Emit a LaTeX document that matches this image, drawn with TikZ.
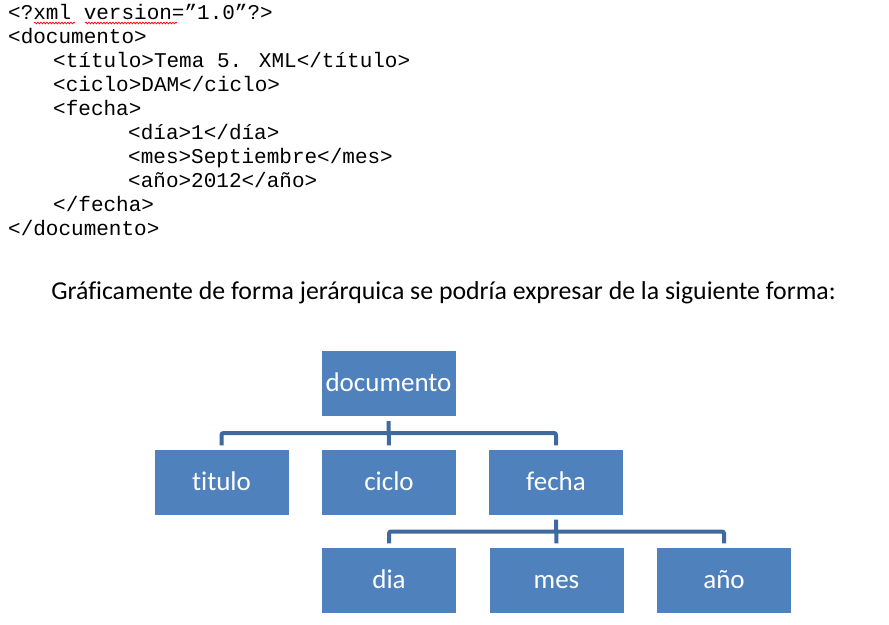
\documentclass[tikz,border=0pt]{standalone}
\usepackage{fontspec}
\setmainfont[Ligatures=NoCommon]{Carlito}
\newfontfamily\xmlfont{Liberation Mono}
\usetikzlibrary{decorations.pathmorphing}
\definecolor{boxblue}{RGB}{79,129,189}
\definecolor{lineblue}{RGB}{62,106,158}
\begin{document}
\begin{tikzpicture}[x=1pt,y=-1pt,
  xmlline/.style={anchor=base west,inner sep=0pt,font=\xmlfont\fontsize{21}{24}\selectfont},
  treebox/.style={fill=boxblue,draw=none,minimum width=134pt,minimum height=65pt,inner sep=0pt,
    text=white,font=\fontsize{27}{30}\selectfont,text height=20pt,text depth=4pt},
  conn/.style={draw=lineblue,line width=4pt},
  squiggle/.style={draw=red,line width=0.7pt,decorate,decoration={snake,amplitude=0.9pt,segment length=3pt}}]
\useasboundingbox (0,0) rectangle (889,624);
\fill[white] (0,0) rectangle (889,624);
% XML listing
\node[xmlline] (l1) at (8,19) {<?xml version=”1.0”?>};
\node[xmlline] (l2) at (8,43) {<documento>};
\node[xmlline] (l3) at (53,67) {<título>Tema 5. XML</título>};
\node[xmlline] (l4) at (53,91) {<ciclo>DAM</ciclo>};
\node[xmlline] (l5) at (53,115) {<fecha>};
\node[xmlline] (l6) at (128,139) {<día>1</día>};
\node[xmlline] (l7) at (128,163) {<mes>Septiembre</mes>};
\node[xmlline] (l8) at (128,187) {<año>2012</año>};
\node[xmlline] (l9) at (53,211) {</fecha>};
\node[xmlline] (l10) at (8,235) {</documento>};
\coordinate (s1a) at (34,23);
\coordinate (s1b) at (75,23);
\coordinate (s2a) at (85,23);
\coordinate (s2b) at (177,23);
\draw[squiggle] (s1a) -- (s1b);
\draw[squiggle] (s2a) -- (s2b);
% caption
\node[anchor=base,inner sep=0pt,font=\fontsize{25.8}{30}\selectfont] (cap) at (443.5,299)
  {Gráficamente de forma jerárquica se podría expresar de la siguiente forma:};
% tree
\node[treebox] (doc) at (388.5,383.5) {documento};
\node[treebox] (tit) at (221.5,482) {titulo};
\node[treebox] (cic) at (389,482) {ciclo};
\node[treebox] (fec) at (556,482) {fecha};
\node[treebox] (dia) at (389,580) {dia};
\node[treebox] (mes) at (556.5,580) {mes};
\node[treebox] (ano) at (724,580) {año};
\coordinate (bar1) at (389,433);
\coordinate (bar2) at (556,531.5);
% connectors level 1
\draw[conn] ([yshift=-5pt]doc.south) -- ([yshift=4pt]cic.north);
\draw[conn,rounded corners=2pt] ([yshift=4pt]tit.north) |- (bar1) -| ([yshift=4pt]fec.north);
% connectors level 2
\draw[conn] ([yshift=-5pt]fec.south) -- ([yshift=4pt]mes.north);
\draw[conn,rounded corners=2pt] ([yshift=4pt]dia.north) |- (bar2) -| ([yshift=4pt]ano.north);
\end{tikzpicture}
\end{document}
